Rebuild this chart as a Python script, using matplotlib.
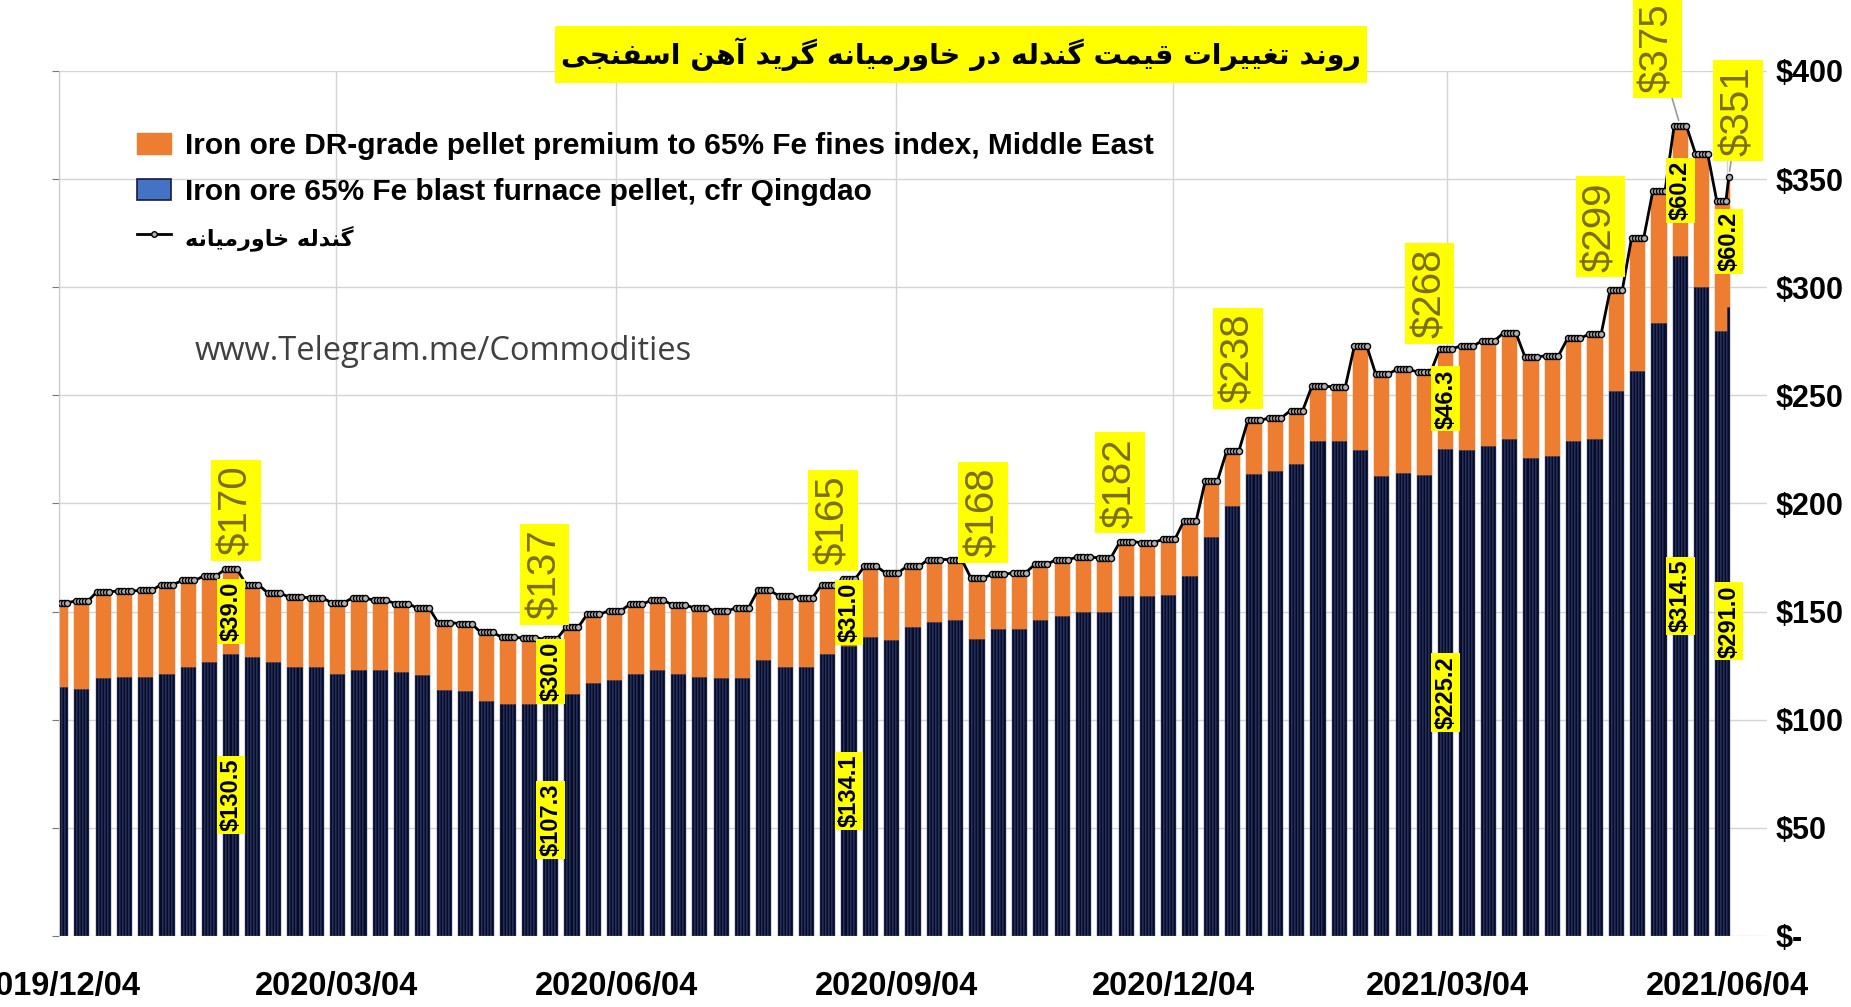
import numpy as np
import pandas as pd
import matplotlib
matplotlib.use("Agg")
import matplotlib.pyplot as plt
import matplotlib.dates as mdates
from matplotlib.patches import Patch, Rectangle
from matplotlib.lines import Line2D

# ---------------- data ----------------
start_date = "2019-12-04"
end_date = "2021-06-04"
first_monday = "2019-12-02"

# weekly total (line, Middle East DR pellet) and Qingdao BF pellet, USD/t
week_total = [154.1, 154.9, 159.2, 159.5, 159.8, 162.5, 164.4, 166.4, 169.5, 162.5,
              158.7, 156.7, 156.4, 154.1, 156.4, 155.2, 153.7, 151.8, 144.9, 144.5,
              140.4, 138.1, 137.8, 137.3, 142.7, 148.8, 150.3, 153.4, 155.2, 153.1,
              151.8, 150.3, 151.8, 159.8, 157.2, 156.4, 162.5, 165.1, 170.9, 167.9,
              170.9, 174.1, 174.1, 165.6, 167.2, 168.0, 171.8, 174.1, 175.2, 174.9,
              182.4, 181.9, 183.4, 192.0, 210.5, 224.1, 238.4, 239.6, 243.0, 254.2,
              254.0, 273.0, 259.8, 262.1, 260.6, 271.5, 272.9, 275.2, 279.0, 267.8,
              268.3, 276.4, 278.2, 298.9, 322.7, 344.5, 374.7, 361.8, 339.9]
week_qingdao = [115.1, 114.4, 119.4, 120.0, 119.7, 121.3, 124.3, 126.6, 130.5, 128.9,
                126.6, 124.3, 124.3, 121.3, 123.1, 123.1, 122.0, 120.5, 113.6, 113.3,
                108.7, 107.5, 107.2, 107.3, 112.1, 117.0, 118.2, 121.3, 123.1, 121.3,
                120.0, 119.4, 119.4, 127.4, 124.6, 124.6, 130.5, 134.1, 138.1, 136.9,
                142.7, 145.2, 146.3, 137.5, 142.1, 142.1, 146.3, 147.8, 149.8, 149.8,
                157.1, 157.1, 157.9, 166.4, 184.5, 198.9, 213.6, 214.9, 218.3, 229.1,
                229.1, 224.8, 212.6, 214.1, 213.0, 225.2, 224.8, 226.8, 229.9, 221.2,
                221.8, 228.8, 229.9, 252.1, 261.3, 283.6, 314.5, 300.0, 279.8]
last_day_total = 351.2
last_day_qingdao = 291.0

xtick_dates = ["2019-12-04", "2020-03-04", "2020-06-04", "2020-09-04",
               "2020-12-04", "2021-03-04", "2021-06-04"]
ytick_values = [0, 50, 100, 150, 200, 250, 300, 350, 400]
ytick_labels = ["$-", "$50", "$100", "$150", "$200", "$250", "$300", "$350", "$400"]

# big total labels: week number (0 = last day) and text
total_label_weeks = [9, 24, 38, 44, 51, 57, 66, 74, 77, 0]
total_label_texts = ["$170", "$137", "$165", "$168", "$182", "$238", "$268", "$299", "$375", "$351"]
# small component labels
comp_label_weeks = [9, 24, 38, 66, 77, 0]
comp_premium_texts = ["$39.0", "$30.0", "$31.0", "$46.3", "$60.2", "$60.2"]
comp_qingdao_texts = ["$130.5", "$107.3", "$134.1", "$225.2", "$314.5", "$291.0"]

title_text = "روند تغییرات قیمت گندله در خاورمیانه گرید آهن اسفنجی"
legend_labels = ["Iron ore DR-grade pellet premium to 65% Fe fines index, Middle East",
                 "Iron ore 65% Fe blast furnace pellet, cfr Qingdao",
                 "گندله خاورمیانه"]
watermark = "www.Telegram.me/Commodities"

# ------------- simple Persian shaping (presentation forms) -------------
FORMS = {
    '\u0622': ('\uFE81', '\uFE82', None, None),
    '\u0627': ('\uFE8D', '\uFE8E', None, None),
    '\u0628': ('\uFE8F', '\uFE90', '\uFE91', '\uFE92'),
    '\u062A': ('\uFE95', '\uFE96', '\uFE97', '\uFE98'),
    '\u062C': ('\uFE9D', '\uFE9E', '\uFE9F', '\uFEA0'),
    '\u062E': ('\uFEA5', '\uFEA6', '\uFEA7', '\uFEA8'),
    '\u062F': ('\uFEA9', '\uFEAA', None, None),
    '\u0631': ('\uFEAD', '\uFEAE', None, None),
    '\u0633': ('\uFEB1', '\uFEB2', '\uFEB3', '\uFEB4'),
    '\u063A': ('\uFECD', '\uFECE', '\uFECF', '\uFED0'),
    '\u0641': ('\uFED1', '\uFED2', '\uFED3', '\uFED4'),
    '\u0642': ('\uFED5', '\uFED6', '\uFED7', '\uFED8'),
    '\u0644': ('\uFEDD', '\uFEDE', '\uFEDF', '\uFEE0'),
    '\u0645': ('\uFEE1', '\uFEE2', '\uFEE3', '\uFEE4'),
    '\u0646': ('\uFEE5', '\uFEE6', '\uFEE7', '\uFEE8'),
    '\u0647': ('\uFEE9', '\uFEEA', '\uFEEB', '\uFEEC'),
    '\u0648': ('\uFEED', '\uFEEE', None, None),
    '\u06CC': ('\uFBFC', '\uFBFD', '\uFBFE', '\uFBFF'),
    '\u06AF': ('\uFB92', '\uFB93', '\uFB94', '\uFB95'),
}


def shape(s):
    out = []
    for i, c in enumerate(s):
        f = FORMS.get(c)
        if f is None:
            out.append(c)
            continue
        prev = s[i - 1] if i > 0 else ''
        nxt = s[i + 1] if i + 1 < len(s) else ''
        pf = FORMS.get(prev)
        jp = pf is not None and pf[2] is not None
        jn = f[2] is not None and nxt in FORMS
        if jp and jn:
            out.append(f[3])
        elif jp:
            out.append(f[1])
        elif jn:
            out.append(f[2])
        else:
            out.append(f[0])
    return ''.join(reversed(out))


# ---------------- build daily series ----------------
days = pd.bdate_range(start_date, end_date)
week_no = ((days - pd.Timestamp(first_monday)).days // 7).values + 1
total = np.array(week_total)[week_no - 1]
qingdao = np.array(week_qingdao)[week_no - 1]
total[-1] = last_day_total
qingdao[-1] = last_day_qingdao
premium = total - qingdao
x = mdates.date2num(days.to_pydatetime())

NARROW = ['Liberation Sans', 'DejaVu Sans']
FA = ['DejaVu Sans']

fig = plt.figure(figsize=(18.51, 10.07), dpi=100)
fig.patch.set_facecolor('white')
ax = fig.add_axes([59 / 1851, (1007 - 936) / 1007, (1767 - 59) / 1851, 865 / 1007])
ax.set_axisbelow(True)

ax.bar(x, qingdao, width=1.0, align='edge', color='#0a0b22', edgecolor='#4262ad',
       linewidth=0.35, zorder=2)
ax.bar(x, premium, bottom=qingdao, width=1.0, align='edge', color='#ED7D31',
       edgecolor='#ED7D31', linewidth=0.35, zorder=2)
ax.plot(x + 0.5, total, color='black', lw=2.0, marker='o', ms=4.4,
        mfc='#b0b0b0', mec='black', mew=1.0, zorder=3)

x0 = mdates.date2num(pd.Timestamp(start_date).to_pydatetime())
ax.set_xlim(x0, x0 + 561)
ax.set_ylim(0, 400)

ax.set_yticks(ytick_values)
ax.set_yticklabels(ytick_labels)
xt = mdates.date2num(pd.to_datetime(xtick_dates).to_pydatetime())
ax.set_xticks(xt)
ax.set_xticklabels([d.replace('-', '/') for d in xtick_dates])
ax.grid(True, color='#d4d4d4', lw=1.0)
ax.tick_params(axis='x', length=0, pad=25, labelsize=23.5)
ax.tick_params(axis='y', left=True, right=False, labelleft=False, labelright=True,
               length=5, color='#777777', pad=1, labelsize=22)
for lbl in ax.get_xticklabels() + ax.get_yticklabels():
    lbl.set_fontfamily(NARROW)
    lbl.set_fontweight('bold')
for s in ['top', 'right', 'bottom']:
    ax.spines[s].set_visible(False)
ax.spines['left'].set_color('#c8c8c8')


def week_pos(w):
    if w == 0:
        return x[-1] + 0.5, total[-1], qingdao[-1], premium[-1]
    m = week_no == w
    return (x[m] + 0.5).mean(), total[m][0], qingdao[m][0], premium[m][0]


# big label offsets (pixels)
big_offsets = [(5, 14), (-6, 20), (-16, 14), (6, 21), (-6, 14), (-16, 17),
               (-16, 11), (-16, 18), (-23, 33), (9, 21)]
for w, t, (dx, dy) in zip(total_label_weeks, total_label_texts, big_offsets):
    xc, yt, _, _ = week_pos(w)
    arrow = None
    if t in ("$375", "$351"):
        arrow = dict(arrowstyle='-', color='#9a9a9a', lw=1.2, shrinkA=0, shrinkB=4)
    ax.annotate(t, xy=(xc, yt), xytext=(dx, dy), textcoords='offset pixels',
                rotation=90, ha='center', va='bottom', fontsize=29,
                family=NARROW, color='#7a6e00', zorder=5, annotation_clip=False,
                bbox=dict(boxstyle='square,pad=0.14', fc='#FFFF00', ec='none'),
                arrowprops=arrow)

for w, tp, tq in zip(comp_label_weeks, comp_premium_texts, comp_qingdao_texts):
    xc, yt, yq, yp = week_pos(w)
    for t, yy in ((tp, yq + yp / 2), (tq, yq / 2)):
        ax.text(xc, yy, t, rotation=90, ha='center', va='center', fontsize=17,
                family=NARROW, fontweight='bold', color='black', zorder=5,
                bbox=dict(boxstyle='square,pad=0.12', fc='#FFFF00', ec='none'))

# legend
handles = [Patch(fc='#ED7D31', ec='#ED7D31'),
           Patch(fc='#4472C4', ec='#1a1a40', lw=1.2),
           Line2D([], [], color='black', lw=2, marker='o', ms=4, mfc='#b0b0b0', mec='black')]
leg = ax.legend(handles, [legend_labels[0], legend_labels[1], shape(legend_labels[2])],
                loc='upper left', bbox_to_anchor=(137 / 1851, 1 - 132 / 1007),
                bbox_transform=fig.transFigure, frameon=False, fontsize=21.5,
                handlelength=1.15, handleheight=0.72, handletextpad=0.45,
                labelspacing=0.6, borderpad=0, borderaxespad=0)
for i, t in enumerate(leg.get_texts()):
    if i < 2:
        t.set_fontfamily(NARROW)
        t.set_fontweight('bold')
    else:
        t.set_fontfamily(FA)
        t.set_fontweight('bold')
        t.set_fontsize(16)

fig.text(195 / 1851, 1 - 351 / 1007, watermark, fontsize=23.5,
         family=['Open Sans', 'DejaVu Sans'], color='#404040', ha='left', va='center')

# title with yellow box
fig.patches.append(Rectangle((555 / 1851, 1 - 83 / 1007), (1367 - 555) / 1851, 57 / 1007,
                             transform=fig.transFigure, fc='#FFFF00', ec='none', zorder=1))
fig.text(961 / 1851, 1 - 54 / 1007, shape(title_text), fontsize=20.5, family=FA,
         fontweight='bold', color='black', ha='center', va='center', zorder=2)

fig.savefig('out.png', dpi=100)
